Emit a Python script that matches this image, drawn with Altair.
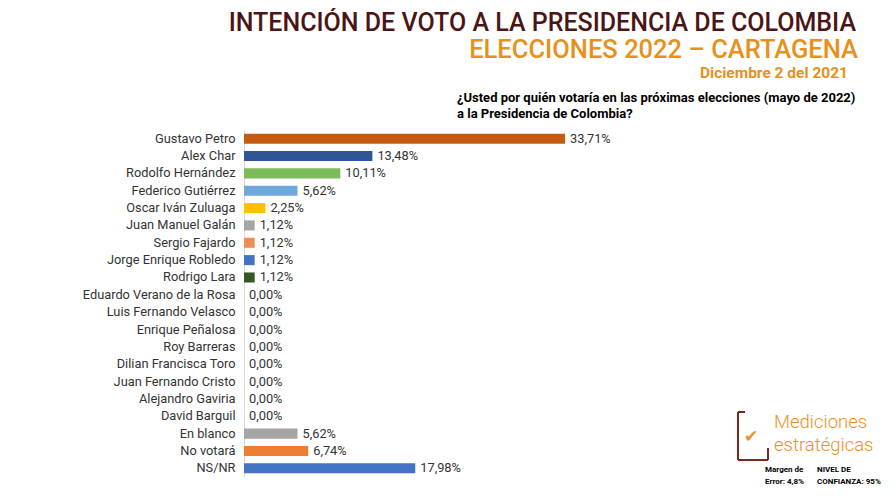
import altair as alt
import pandas as pd

candidates = ["Gustavo Petro", "Alex Char", "Rodolfo Hernández", "Federico Gutiérrez",
              "Oscar Iván Zuluaga", "Juan Manuel Galán", "Sergio Fajardo",
              "Jorge Enrique Robledo", "Rodrigo Lara", "Eduardo Verano de la Rosa",
              "Luis Fernando Velasco", "Enrique Peñalosa", "Roy Barreras",
              "Dilian Francisca Toro", "Juan Fernando Cristo", "Alejandro Gaviria",
              "David Barguil", "En blanco", "No votará", "NS/NR"]
values = [33.71, 13.48, 10.11, 5.62, 2.25, 1.12, 1.12, 1.12, 1.12, 0.0,
          0.0, 0.0, 0.0, 0.0, 0.0, 0.0, 0.0, 5.62, 6.74, 17.98]
colors = ["#c55a11", "#2f5597", "#7cbb5a", "#6fa8dc", "#ffc000", "#a5a5a5",
          "#f08c50", "#4472c4", "#375623", "#a5a5a5", "#a5a5a5", "#a5a5a5",
          "#a5a5a5", "#a5a5a5", "#a5a5a5", "#a5a5a5", "#a5a5a5", "#a5a5a5",
          "#ed7d31", "#4472c4"]
labels = [f"{v:.2f}".replace(".", ",") + "%" for v in values]

df = pd.DataFrame({"cand": candidates, "val": values, "col": colors, "lab": labels})

FONT = "Roboto"
TFONT = "Roboto"
W, H = 381, 347

y = alt.Y("cand:N", sort=candidates, title=None,
          scale=alt.Scale(paddingInner=0.42, paddingOuter=0.21),
          axis=alt.Axis(ticks=False, labelPadding=9, labelFontSize=12.8,
                        labelFont=FONT, labelColor="#333333",
                        domainColor="#d9d9d9", labelLimit=300))
x = alt.X("val:Q", scale=alt.Scale(domain=[0, 40]), axis=None)

bars = alt.Chart(df).mark_bar().encode(x=x, y=y, color=alt.Color("col:N", scale=None))
text = alt.Chart(df).mark_text(align="left", dx=5, fontSize=12.8, font=FONT,
                               color="#333333").encode(x=x, y=y, text="lab:N")

def txt(s, px, py, size, color, align="left", weight="normal", font=TFONT):
    return alt.Chart(pd.DataFrame({"t": [s]})).mark_text(
        align=align, baseline="alphabetic", fontSize=size, color=color,
        fontWeight=weight, font=font).encode(
        x=alt.value(px), y=alt.value(py), text="t:N")

titles = [
    txt("INTENCIÓN DE VOTO A LA PRESIDENCIA DE COLOMBIA", 612, -99, 25, "#4a1515", "right", 500),
    txt("ELECCIONES 2022 – CARTAGENA", 614, -72, 25.5, "#e8901c", "right", 500),
    txt("Diciembre 2 del 2021", 604, -52, 15.5, "#e8901c", "right", "bold"),
    txt("¿Usted por quién votaría en las próximas elecciones (mayo de 2022)", 213, -28, 13, "#000000", "left", "bold"),
    txt("a la Presidencia de Colombia?", 213, -12, 13, "#000000", "left", "bold"),
    txt("Mediciones", 530, 298, 18.5, "#f0901e", "left", 300),
    txt("estratégicas", 530, 321, 18.5, "#f0901e", "left", 300),
    txt("Margen de", 521, 342, 8, "#000000", "left", "bold"),
    txt("Error: 4,8%", 521, 354, 8, "#000000", "left", "bold"),
    txt("NIVEL DE", 573, 342, 8, "#000000", "left", "bold"),
    txt("CONFIANZA: 95%", 573, 354, 8, "#000000", "left", "bold"),
    txt("✔", 500, 312, 17, "#f0901e", "left", "normal", "DejaVu Sans"),
]
# logo bracket
rule_df = pd.DataFrame({"a": [0]})
bracket = [
    alt.Chart(rule_df).mark_rule(color="#7a2a1a", strokeWidth=2).encode(
        x=alt.value(494), y=alt.value(282), y2=alt.value(330)),
    alt.Chart(rule_df).mark_rule(color="#7a2a1a", strokeWidth=2).encode(
        x=alt.value(494), x2=alt.value(501), y=alt.value(282)),
    alt.Chart(rule_df).mark_rule(color="#7a2a1a", strokeWidth=2).encode(
        x=alt.value(494), x2=alt.value(524), y=alt.value(330)),
    alt.Chart(rule_df).mark_rule(color="#7a2a1a", strokeWidth=2).encode(
        x=alt.value(524), y=alt.value(318), y2=alt.value(330)),
]

chart = alt.layer(bars, text, *titles, *bracket).properties(
    width=W, height=H,
    autosize=alt.AutoSizeParams(type="none"),
    padding={"left": 236, "top": 122, "right": 880 - 236 - W, "bottom": 17},
    background="white",
).configure_view(stroke=None)

chart.save("out.html", embed_options={"renderer": "svg", "actions": False})
